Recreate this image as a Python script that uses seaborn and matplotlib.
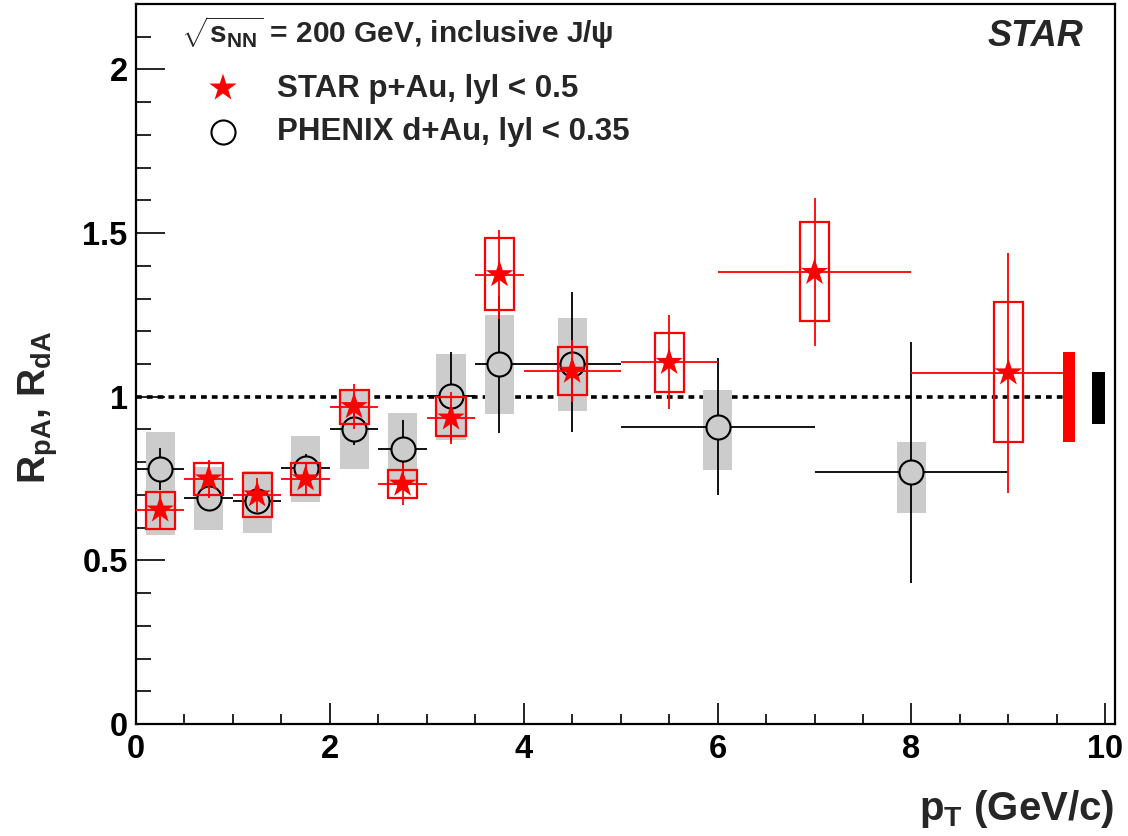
import matplotlib
matplotlib.use("Agg")
import matplotlib.pyplot as plt
import seaborn as sns
import numpy as np
import pandas as pd
from matplotlib.ticker import MultipleLocator, FuncFormatter

# ---------------- data ----------------
star_pt = [0.25, 0.75, 1.25, 1.75, 2.25, 2.75, 3.25, 3.75, 4.5, 5.5, 7.0, 9.0]
star_xlo = [0.25, 0.25, 0.25, 0.25, 0.25, 0.25, 0.25, 0.25, 0.5, 0.5, 1.0, 1.0]
star_xhi = [0.25, 0.25, 0.25, 0.25, 0.25, 0.25, 0.25, 0.25, 0.5, 0.5, 1.0, 0.56]
star_r = [0.654, 0.749, 0.700, 0.749, 0.970, 0.733, 0.935, 1.373, 1.078, 1.105, 1.380, 1.073]
star_stat = [0.056, 0.058, 0.053, 0.053, 0.069, 0.064, 0.079, 0.137, 0.095, 0.144, 0.226, 0.367]
star_sys_lo = [0.596, 0.700, 0.632, 0.700, 0.917, 0.690, 0.879, 1.264, 1.004, 1.014, 1.230, 0.861]
star_sys_hi = [0.710, 0.797, 0.766, 0.797, 1.021, 0.775, 0.998, 1.485, 1.151, 1.196, 1.534, 1.288]

phenix_pt = [0.25, 0.75, 1.25, 1.75, 2.25, 2.75, 3.25, 3.75, 4.5, 6.0, 8.0]
phenix_xerr = [0.25, 0.25, 0.25, 0.25, 0.25, 0.25, 0.25, 0.25, 0.5, 1.0, 1.0]
phenix_r = [0.780, 0.690, 0.680, 0.782, 0.901, 0.840, 1.001, 1.100, 1.100, 0.909, 0.769]
phenix_stat_lo = [0.064, 0.040, 0.030, 0.044, 0.048, 0.090, 0.137, 0.211, 0.209, 0.209, 0.339]
phenix_stat_hi = [0.064, 0.040, 0.030, 0.044, 0.048, 0.090, 0.137, 0.209, 0.219, 0.209, 0.398]
phenix_sys_lo = [0.578, 0.593, 0.585, 0.677, 0.779, 0.730, 0.868, 0.947, 0.957, 0.777, 0.646]
phenix_sys_hi = [0.893, 0.786, 0.774, 0.881, 1.020, 0.951, 1.130, 1.251, 1.240, 1.021, 0.862]

glob_x = [9.625, 9.93]
glob_w = [0.13, 0.14]
glob_lo = [0.861, 0.918]
glob_hi = [1.138, 1.075]
glob_colors = ["#ff0000", "#000000"]

x_ticks = [0, 2, 4, 6, 8, 10]
y_ticks = [0, 0.5, 1, 1.5, 2]

star_df = pd.DataFrame({"pt": star_pt, "r": star_r})
phenix_df = pd.DataFrame({"pt": phenix_pt, "r": phenix_r})

# ---------------- style ----------------
sns.set_theme(style="ticks")
plt.rcParams["font.family"] = ["Liberation Sans", "DejaVu Sans"]
plt.rcParams["font.weight"] = "bold"
plt.rcParams["mathtext.fontset"] = "custom"
plt.rcParams["mathtext.rm"] = "Liberation Sans:bold"
plt.rcParams["mathtext.it"] = "Liberation Sans:bold"
plt.rcParams["mathtext.bf"] = "Liberation Sans:bold"
plt.rcParams["mathtext.sf"] = "Liberation Sans:bold"

W, H = 1128, 836
fig = plt.figure(figsize=(W / 100, H / 100), dpi=100)
fig.patch.set_facecolor("white")
ax = fig.add_axes([136 / W, 1 - 724 / H, (1115 - 136) / W, (724 - 4) / H])
ax.set_facecolor("white")

# reference line
ax.plot([0, 9.56], [1, 1], color="black", lw=2.6, ls=(0, (1.6, 1.4)), zorder=1)

# PHENIX systematic boxes
ph_lo = np.array(phenix_sys_lo)
ph_hi = np.array(phenix_sys_hi)
ax.bar(phenix_pt, ph_hi - ph_lo, bottom=ph_lo, width=0.3, color="#cccccc",
       edgecolor="none", linewidth=0, zorder=2)
ax.errorbar(phenix_pt, phenix_r, xerr=phenix_xerr,
            yerr=[phenix_stat_lo, phenix_stat_hi], fmt="none",
            ecolor="black", elinewidth=1.3, capsize=0, zorder=3)
sns.scatterplot(data=phenix_df, x="pt", y="r", marker="o", s=300,
                color="#cccccc", edgecolor="black", linewidth=1.5,
                zorder=4, ax=ax, legend=False)

# STAR systematic boxes
st_lo = np.array(star_sys_lo)
st_hi = np.array(star_sys_hi)
ax.bar(star_pt, st_hi - st_lo, bottom=st_lo, width=0.3, fill=False,
       edgecolor="#ff0000", linewidth=1.6, zorder=5)
ax.errorbar(star_pt, star_r, xerr=[star_xlo, star_xhi], yerr=star_stat,
            fmt="none", ecolor="#ff0000", elinewidth=1.3, capsize=0, zorder=6)
sns.scatterplot(data=star_df, x="pt", y="r", marker="*", s=430,
                color="#ff0000", edgecolor="none", linewidth=0,
                zorder=7, ax=ax, legend=False)

# global uncertainties
g_lo = np.array(glob_lo)
g_hi = np.array(glob_hi)
ax.bar(glob_x, g_hi - g_lo, bottom=g_lo, width=glob_w, color=glob_colors,
       edgecolor="none", linewidth=0, zorder=8)

# ---------------- axes ----------------
ax.set_xlim(0, 10.1)
ax.set_ylim(0, 2.2)
ax.set_xticks(x_ticks)
ax.set_yticks(y_ticks)
ax.xaxis.set_minor_locator(MultipleLocator(0.5))
ax.yaxis.set_minor_locator(MultipleLocator(0.1))
ax.yaxis.set_major_formatter(FuncFormatter(lambda v, p: f"{v:g}"))
ax.xaxis.set_major_formatter(FuncFormatter(lambda v, p: f"{v:g}"))
ax.tick_params(which="both", direction="in", top=False, right=False,
               width=1.2, colors="black")
ax.tick_params(axis="x", which="major", length=15, pad=7, labelsize=23.5)
ax.tick_params(axis="x", which="minor", length=7.5)
ax.tick_params(axis="y", which="major", length=21, pad=6, labelsize=23.5)
ax.tick_params(axis="y", which="minor", length=11)
for lab in ax.get_xticklabels() + ax.get_yticklabels():
    lab.set_fontweight("bold")
for sp in ax.spines.values():
    sp.set_visible(True)
    sp.set_linewidth(1.6)
    sp.set_color("black")
ax.set_xlabel("")
ax.set_ylabel("")

def fx(x):
    return x / W

def fy(y):
    return 1 - y / H

fig.text(fx(38), fy(407), r"R$_{\mathbf{pA}}$, R$_{\mathbf{dA}}$",
         rotation=90, ha="center", va="center", fontsize=28, fontweight="bold")
fig.text(fx(1114), fy(820), r"p$_{\mathbf{T}}$ (GeV/c)", ha="right",
         va="baseline", fontsize=29, fontweight="bold")

# legend-like annotations
fig.text(fx(181), fy(43), r"$\sqrt{\mathbf{s}_{\mathbf{NN}}}$ = 200 GeV, inclusive J/$\psi$",
         ha="left", va="baseline", fontsize=21.5, fontweight="bold")
fig.text(fx(277), fy(97), "STAR p+Au, lyl < 0.5", ha="left", va="baseline",
         fontsize=22.5, fontweight="bold")
fig.text(fx(277), fy(140), "PHENIX d+Au, lyl < 0.35", ha="left", va="baseline",
         fontsize=22.5, fontweight="bold")
ax.scatter([fx(223)], [fy(88)], marker="*", s=430, color="#ff0000",
           edgecolor="none", transform=fig.transFigure, clip_on=False, zorder=10)
ax.scatter([fx(223)], [fy(132)], marker="o", s=300, facecolor="white",
           edgecolor="black", linewidth=1.5, transform=fig.transFigure,
           clip_on=False, zorder=10)
fig.text(fx(1083), fy(46), "STAR", ha="right", va="baseline", fontsize=26,
         fontweight="bold", fontstyle="italic")

fig.savefig("out.png", dpi=100, facecolor="white")
